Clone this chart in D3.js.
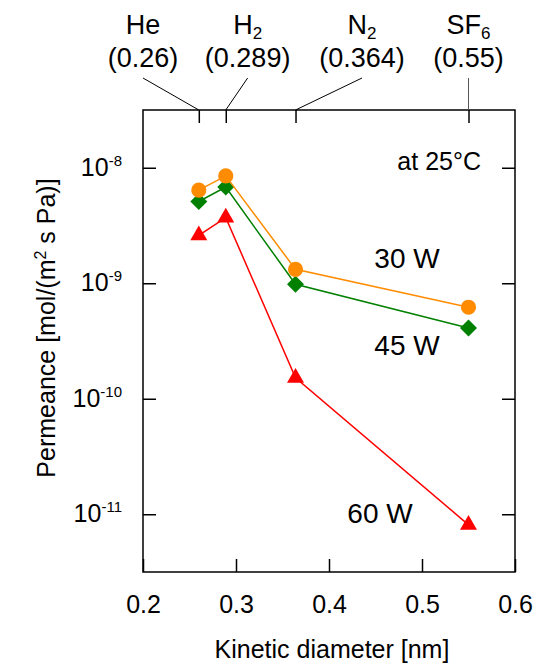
<!DOCTYPE html>
<html>
<head>
<meta charset="utf-8">
<script src="https://cdn.jsdelivr.net/npm/d3@7"></script>
<style>
  body { margin: 0; background: #fff; }
  text { font-family: "Liberation Sans", Arial, sans-serif; fill: #000; }
</style>
</head>
<body>
<div id="chart"></div>
<script>
// gases and their kinetic diameters [nm]
const gases = ["He", "H2", "N2", "SF6"];
const gasNames = [["He", ""], ["H", "2"], ["N", "2"], ["SF", "6"]];
const kineticDiameter = [0.26, 0.289, 0.364, 0.55];

// permeance [mol/(m2 s Pa)] per plasma power
const permeance30W = [6.4e-9, 8.5e-9, 1.32e-9, 6.2e-10];
const permeance45W = [5.1e-9, 6.8e-9, 9.8e-10, 4.1e-10];
const permeance60W = [2.6e-9, 3.7e-9, 1.52e-10, 8.1e-12];

const xTicks = [0.2, 0.3, 0.4, 0.5, 0.6];
const yTicks = [1e-8, 1e-9, 1e-10, 1e-11];
const yExponents = ["-8", "-9", "-10", "-11"];

const margin = { top: 110, right: 22, bottom: 91, left: 143 };
const width = 537 - margin.left - margin.right;
const height = 663 - margin.top - margin.bottom;

const root = d3.select("#chart")
  .append("svg")
  .attr("width", 537)
  .attr("height", 663);

const svg = root.append("g")
  .attr("transform", `translate(${margin.left},${margin.top})`);

const x = d3.scaleLinear().domain([0.2, 0.6]).range([0, width]);
const y = d3.scaleLog().domain([Math.pow(10, -11.5), Math.pow(10, -7.5)]).range([height, 0]);

// frame
svg.append("rect")
  .attr("width", width)
  .attr("height", height)
  .attr("fill", "none")
  .attr("stroke", "#000")
  .attr("stroke-width", 1.5);

// bottom axis, ticks pointing inward
const xAxis = svg.append("g")
  .attr("transform", `translate(0,${height})`)
  .call(d3.axisBottom(x).tickValues(xTicks).tickSizeInner(-13).tickSizeOuter(0).tickPadding(23).tickFormat(d3.format(".1f")));
xAxis.select(".domain").remove();
xAxis.selectAll("line").attr("stroke-width", 1.5);
xAxis.selectAll("text").attr("font-size", 25).attr("font-family", null);

// top ticks at the gas diameters
svg.append("g")
  .call(d3.axisTop(x).tickValues(kineticDiameter).tickSizeInner(-13).tickSizeOuter(0).tickFormat(""))
  .call(g => g.select(".domain").remove())
  .selectAll("line").attr("stroke-width", 1.5);

// left axis
const yAxis = svg.append("g")
  .call(d3.axisLeft(y).tickValues(yTicks).tickSizeInner(-13).tickSizeOuter(0).tickPadding(21).tickFormat(""));
yAxis.select(".domain").remove();
yAxis.selectAll("line").attr("stroke-width", 1.5);
yAxis.selectAll(".tick text")
  .attr("font-size", 25)
  .attr("font-family", null)
  .attr("dy", "0.3em")
  .each(function(d, i) {
    const t = d3.select(this);
    t.append("tspan").text("10");
    t.append("tspan").attr("dy", -10).attr("font-size", 15).text(yExponents[i]);
  });

// right axis
svg.append("g")
  .attr("transform", `translate(${width},0)`)
  .call(d3.axisRight(y).tickValues(yTicks).tickSizeInner(-13).tickSizeOuter(0).tickFormat(""))
  .call(g => g.select(".domain").remove())
  .selectAll("line").attr("stroke-width", 1.5);

// axis titles
root.append("text")
  .attr("x", 332)
  .attr("y", 658)
  .attr("text-anchor", "middle")
  .attr("font-size", 25)
  .text("Kinetic diameter [nm]");

const yTitle = root.append("text")
  .attr("transform", "translate(55,328) rotate(-90)")
  .attr("text-anchor", "middle")
  .attr("font-size", 25);
yTitle.append("tspan").text("Permeance [mol/(m");
yTitle.append("tspan").attr("dy", -9).attr("font-size", 16).text("2");
yTitle.append("tspan").attr("dy", 9).text(" s Pa)]");

// gas labels above the frame with leader lines
const labelX = [0.2, 0.3125, 0.4355, 0.55];
gases.forEach((g, i) => {
  const lx = x(labelX[i]);
  svg.append("line")
    .attr("x1", lx).attr("y1", -32)
    .attr("x2", x(kineticDiameter[i])).attr("y2", 0)
    .attr("stroke", i === 3 ? "#555" : "#000")
    .attr("stroke-width", 1);
  const name = svg.append("text")
    .attr("x", lx)
    .attr("y", -76)
    .attr("text-anchor", "middle")
    .attr("font-size", 27);
  name.append("tspan").text(gasNames[i][0]);
  if (gasNames[i][1]) {
    name.append("tspan").attr("dy", 5).attr("font-size", 17).text(gasNames[i][1]);
  }
  svg.append("text")
    .attr("x", lx)
    .attr("y", -43)
    .attr("text-anchor", "middle")
    .attr("font-size", 27)
    .text(`(${kineticDiameter[i]})`);
});

// series
const series = [
  { name: "60 W", values: permeance60W, color: "#ff0000", symbol: d3.symbolTriangle, size: 125, rotate: 0 },
  { name: "45 W", values: permeance45W, color: "#008000", symbol: d3.symbolSquare, size: 144, rotate: 45 },
  { name: "30 W", values: permeance30W, color: "#ff8c00", symbol: d3.symbolCircle, size: 180, rotate: 0 }
];

const line = d3.line()
  .x((d, i) => x(kineticDiameter[i]))
  .y(d => y(d));

series.forEach(s => {
  svg.append("path")
    .attr("fill", "none")
    .attr("stroke", s.color)
    .attr("stroke-width", 1.5)
    .attr("d", line(s.values));
  svg.selectAll(null)
    .data(s.values)
    .join("path")
    .attr("transform", (d, i) => `translate(${x(kineticDiameter[i])},${y(d)}) rotate(${s.rotate})`)
    .attr("d", d3.symbol().type(s.symbol).size(s.size))
    .attr("fill", s.color);
});

// annotations
const notes = [
  { text: "at 25\u00B0C", px: 481, py: 170, size: 25, anchor: "end" },
  { text: "30 W", px: 407, py: 268, size: 28, anchor: "middle" },
  { text: "45 W", px: 407, py: 355, size: 28, anchor: "middle" },
  { text: "60 W", px: 380, py: 523, size: 28, anchor: "middle" }
];
root.selectAll(".note")
  .data(notes)
  .join("text")
  .attr("class", "note")
  .attr("x", d => d.px)
  .attr("y", d => d.py)
  .attr("text-anchor", d => d.anchor)
  .attr("font-size", d => d.size)
  .text(d => d.text);
</script>
</body>
</html>
